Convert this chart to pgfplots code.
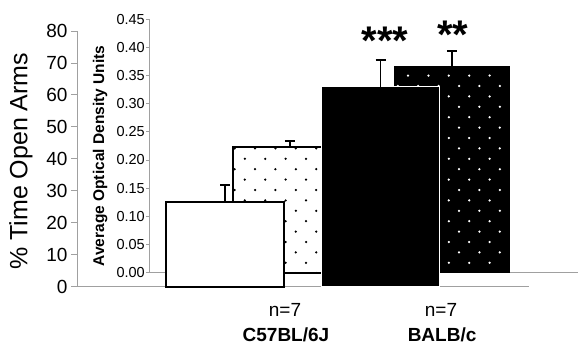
\documentclass[border=0pt]{standalone}
\usepackage{pgfplots}
\pgfplotsset{compat=1.18}
\usepackage{fontspec}
\setmainfont{Liberation Sans}
\usetikzlibrary{patterns}
\pgfdeclarepatternformonly{sdots}{\pgfqpoint{-1.5pt}{-1.5pt}}{\pgfqpoint{21.5pt}{22pt}}{\pgfqpoint{20.4pt}{20.8pt}}{%
\pgfpathcircle{\pgfqpoint{0pt}{0pt}}{1.25pt}%
\pgfpathcircle{\pgfqpoint{10.2pt}{10.4pt}}{1.25pt}%
\pgfusepath{fill}}
\definecolor{axgray}{HTML}{A0A0A0}
\pgfplotsset{
  myerr/.style={error bars/.cd, y dir=plus, y explicit, error mark=-,
    error bar style={line width=1.8pt, black, solid},
    error mark options={rotate=90, line width=1.8pt, mark size=5pt, black, solid}}
}
\begin{document}
\begin{tikzpicture}
% inner axis (optical density)
\begin{axis}[
  at={(149pt,73.5pt)}, anchor=south west,
  scale only axis, width=429pt, height=253.2pt,
  xmin=-0.870, xmax=1.778, ymin=0, ymax=0.45,
  axis x line*=bottom, axis y line*=left,
  axis line style={-, axgray, line width=0.8pt},
  xtick=\empty,
  ytick={0,0.05,0.10,0.15,0.20,0.25,0.30,0.35,0.40,0.45},
  yticklabels={0.00,0.05,0.10,0.15,0.20,0.25,0.30,0.35,0.40,0.45},
  tick align=outside, major tick length=3pt,
  tick style={axgray, line width=0.8pt},
  yticklabel style={font=\fontsize{14.5}{16}\selectfont, inner sep=1pt},
  ylabel={\textbf{Average Optical Density Units}},
  ylabel style={font=\fontsize{15.5}{17}\selectfont, at={(axis description cs:-0.114,0.46)}, anchor=center, rotate=0},
  clip=false,
]
\addplot[ybar, bar width=114pt, bar shift=0pt, draw=black, line width=2pt, fill=white,
  postaction={pattern=sdots, pattern color=black}, myerr]
  coordinates {(0,0.2236) +- (0,0.0107)};
\addplot[ybar, bar width=114pt, bar shift=0pt, draw=black, line width=1.5pt, fill=black,
  postaction={pattern=sdots, pattern color=white}, myerr]
  coordinates {(1,0.3658) +- (0,0.028)};
\end{axis}
% outer axis (% time open arms)
\begin{axis}[
  at={(77pt,59.5pt)}, anchor=south west,
  scale only axis, width=452pt, height=255.5pt,
  xmin=-0.952, xmax=1.955, ymin=0, ymax=80,
  axis x line*=bottom, axis y line*=left,
  axis line style={-, axgray, line width=0.8pt},
  xtick=\empty,
  ytick={0,10,20,30,40,50,60,70,80},
  yticklabels={0,10,20,30,40,50,60,70,80},
  tick align=outside, major tick length=6pt,
  tick style={axgray, line width=0.8pt},
  yticklabel style={font=\fontsize{19}{22}\selectfont},
  ylabel={\% Time Open Arms},
  ylabel style={font=\fontsize{25}{28}\selectfont, at={(axis description cs:-0.124,0.49)}, anchor=center},
  clip=false,
]
\addplot[ybar, bar width=118pt, bar shift=0pt, draw=black, line width=2pt, fill=white, myerr]
  coordinates {(0,26.6) +- (0,5.2)};
\addplot[ybar, bar width=118pt, bar shift=0pt, draw=white, line width=1.5pt, fill=black, myerr]
  coordinates {(1,62.6) +- (0,8.4)};
\node[anchor=base, font=\fontsize{19}{22}\selectfont] at (axis cs:0.386,-9.4) {n=7};
\node[anchor=base, font=\fontsize{19}{22}\selectfont\bfseries] at (axis cs:0.392,-17.3) {C57BL/6J};
\node[anchor=base, font=\fontsize{19}{22}\selectfont] at (axis cs:1.389,-9.4) {n=7};
\node[anchor=base, font=\fontsize{19}{22}\selectfont\bfseries] at (axis cs:1.396,-17.3) {BALB/c};
\node[anchor=base, font=\fontsize{40}{44}\selectfont\bfseries] at (axis cs:1.029,72.8) {***};
\node[anchor=base, font=\fontsize{40}{44}\selectfont\bfseries] at (axis cs:1.466,74.4) {**};
\end{axis}
\pgfresetboundingbox
\path (0,0) rectangle (578pt,346pt);
\end{tikzpicture}
\end{document}
